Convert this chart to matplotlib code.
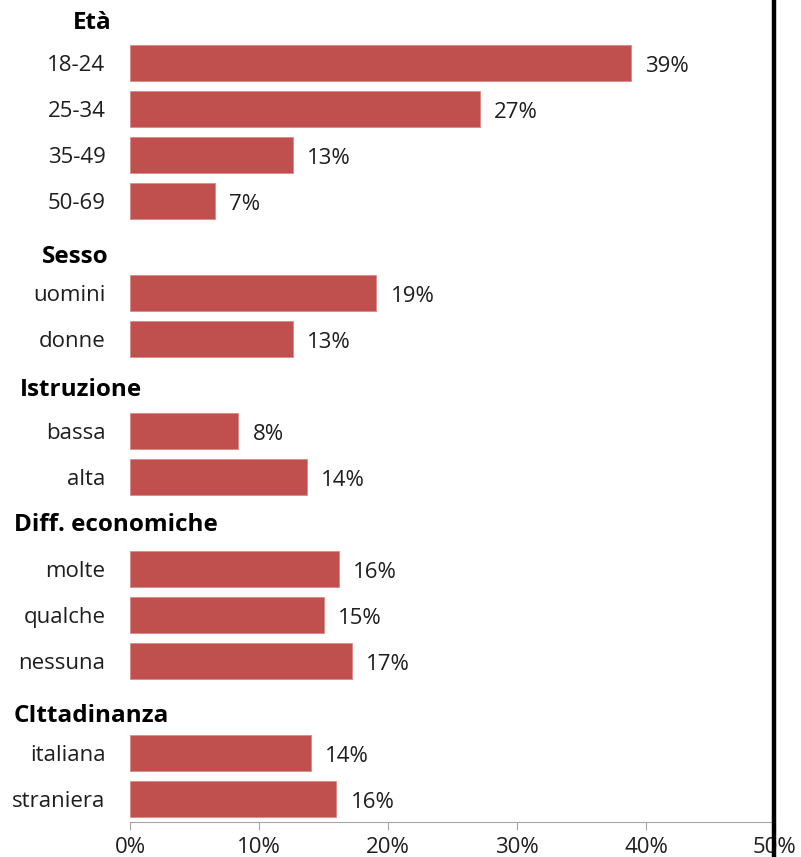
import matplotlib.pyplot as plt
from matplotlib.lines import Line2D
from matplotlib.transforms import blended_transform_factory

# gruppi e categorie
groups = ['Età', 'Sesso', 'Istruzione', 'Diff. economiche', 'CIttadinanza']
group_cats = [
    ['18-24', '25-34', '35-49', '50-69'],
    ['uomini', 'donne'],
    ['bassa', 'alta'],
    ['molte', 'qualche', 'nessuna'],
    ['italiana', 'straniera'],
]
group_vals = [
    [38.8, 27.1, 12.6, 6.6],
    [19.1, 12.6],
    [8.4, 13.7],
    [16.2, 15.0, 17.2],
    [14.0, 16.0],
]
header_x = [73, 42, 20, 14, 14]      # px, bordo sinistro titolo
header_dy = [0.12, 0.22, 0.1, 0.05, 0.2]
ticks = [0, 10, 20, 30, 40, 50]

plt.rcParams['font.family'] = ['Open Sans', 'DejaVu Sans']
bar_color = '#C0504D'
txt_color = '#1E1E1E'
fs = 16

W, H = 801, 857
fig = plt.figure(figsize=(W / 100, H / 100), dpi=100)
ax = fig.add_axes([130 / W, (H - 822) / H, (775 - 130) / W, 822 / H])
hdr_tr = blended_transform_factory(fig.transFigure, ax.transData)

pos = 0
for g, cats, vals, hx, dy in zip(groups, group_cats, group_vals, header_x, header_dy):
    ax.text(hx / W, pos + dy, g, transform=hdr_tr, fontsize=17.5,
            fontweight='bold', color='black', va='center', ha='left')
    pos += 1
    for c, v in zip(cats, vals):
        ax.barh(pos, v, height=0.78, color=bar_color, edgecolor='#D88A88', linewidth=0.6)
        ax.text(v + 1.1, pos + 0.08, f'{round(v)}%', fontsize=fs, color=txt_color,
                va='center', ha='left')
        ax.text(-1.9, pos + 0.05, c, fontsize=fs, color=txt_color, va='center', ha='right')
        pos += 1

ax.set_xlim(0, 50)
ax.set_ylim(pos - 0.5, -0.37)
ax.set_yticks([])
ax.set_xticks(ticks)
ax.set_xticklabels([f'{t}%' for t in ticks], fontsize=fs, color=txt_color)
for s in ['top', 'right', 'left']:
    ax.spines[s].set_visible(False)
ax.spines['bottom'].set_color('#A6A6A6')
ax.tick_params(axis='x', direction='out', length=6, color='#A6A6A6', pad=5)

fig.add_artist(Line2D([774 / W, 774 / W], [0, 1], color='black', linewidth=3.2,
                      transform=fig.transFigure))

fig.savefig('out.png', dpi=100)
